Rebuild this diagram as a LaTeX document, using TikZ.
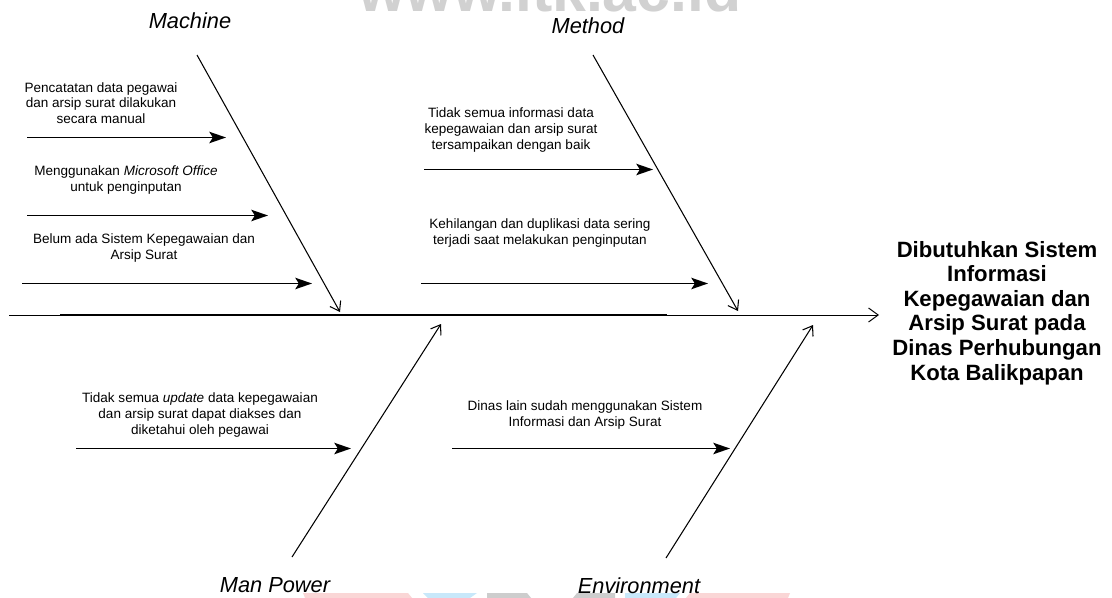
\documentclass[tikz,border=0pt]{standalone}
\usepackage{fontspec}
\setmainfont{Liberation Sans}
\usetikzlibrary{arrows.meta}
\tikzset{
  x=0.02cm,y=-0.02cm,
  spine/.style={draw=black,line width=0.55pt,-{Straight Barb[length=5.5pt,width=8pt]}},
  spinebody/.style={draw=black,line width=0.85pt},
  rib/.style={draw=black,line width=0.6pt,-{Straight Barb[length=5pt,width=7pt]}},
  cause/.style={draw=black,line width=0.85pt,-{Stealth[length=9.5pt,width=6.5pt,inset=2pt]}},
  causetext/.style={align=center,inner sep=0pt,font=\fontsize{7.7}{8.9}\selectfont},
  cat/.style={inner sep=0pt,font=\fontsize{12.4}{14}\selectfont\itshape},
  effect/.style={align=center,inner sep=0pt,font=\fontsize{12.6}{13.95}\selectfont\bfseries},
  wm/.style={inner sep=0pt,text=black!18,font=\fontsize{34.6}{40}\selectfont\bfseries},
}
\definecolor{wmpink}{RGB}{250,214,214}
\definecolor{wmblue}{RGB}{200,232,250}
\definecolor{wmgrey}{RGB}{205,205,205}
\begin{document}
\begin{tikzpicture}
\useasboundingbox (0,0) rectangle (1112,598);
\fill[white] (0,0) rectangle (1112,598);
% watermark fragments
\begin{scope}
\clip (0,0) rectangle (1112,598);
\node[wm,anchor=base] (wmark) at (550,12) {www.itk.ac.id};
\fill[wmpink] (303,593) -- (408,593) -- (412,598) -- (305,598) -- cycle;
\fill[wmblue] (423,593) -- (477,593) -- (470,598) -- (428,598) -- cycle;
\fill[wmgrey] (487,593) -- (527,593) -- (531,598) -- (487,598) -- cycle;
\fill[wmgrey] (577,593) -- (615,593) -- (615,598) -- (573,598) -- cycle;
\fill[wmblue] (625,593) -- (680,593) -- (676,598) -- (625,598) -- cycle;
\fill[wmpink] (690,593) -- (790,593) -- (788,598) -- (686,598) -- cycle;
\end{scope}
% end points
\coordinate (sL) at (9,315); \coordinate (sR) at (879,315);
\coordinate (sT1) at (60,315); \coordinate (sT2) at (667,315);
\coordinate (mA) at (197,55); \coordinate (mB) at (340,312);
\coordinate (hA) at (593,55); \coordinate (hB) at (738,311);
\coordinate (pA) at (292,557); \coordinate (pB) at (441,324);
\coordinate (eA) at (666,558); \coordinate (eB) at (813,325);
\coordinate (c1a) at (27,137.5); \coordinate (c1b) at (226,137.5);
\coordinate (c2a) at (27,215.5); \coordinate (c2b) at (268,215.5);
\coordinate (c3a) at (22,283.5); \coordinate (c3b) at (312,283.5);
\coordinate (c4a) at (424,169.5); \coordinate (c4b) at (653,169.5);
\coordinate (c5a) at (421,283.5); \coordinate (c5b) at (708,283.5);
\coordinate (c6a) at (76,448.5); \coordinate (c6b) at (351,448.5);
\coordinate (c7a) at (452,448.5); \coordinate (c7b) at (730,448.5);
% connectors
\draw[spine] (sL) -- (sR);
\draw[spinebody] (sT1) -- (sT2);
\draw[rib] (mA) -- (mB);
\draw[rib] (hA) -- (hB);
\draw[rib] (pA) -- (pB);
\draw[rib] (eA) -- (eB);
\draw[cause] (c1a) -- (c1b);
\draw[cause] (c2a) -- (c2b);
\draw[cause] (c3a) -- (c3b);
\draw[cause] (c4a) -- (c4b);
\draw[cause] (c5a) -- (c5b);
\draw[cause] (c6a) -- (c6b);
\draw[cause] (c7a) -- (c7b);
% categories
\node[cat] (machine) at (190,21) {Machine};
\node[cat] (method) at (588,26) {Method};
\node[cat] (manpower) at (275,585) {Man Power};
\node[cat] (environment) at (639,586) {Environment};
% causes
\node[causetext] (t1) at (101,103) {Pencatatan data pegawai\\dan arsip surat dilakukan\\secara manual};
\node[causetext] (t2) at (126,180) {Menggunakan \textit{Microsoft Office}\\untuk penginputan};
\node[causetext] (t3) at (144,248) {Belum ada Sistem Kepegawaian dan\\Arsip Surat};
\node[causetext] (t4) at (511,130) {Tidak semua informasi data\\kepegawaian dan arsip surat\\tersampaikan dengan baik};
\node[causetext] (t5) at (540,233) {Kehilangan dan duplikasi data sering\\terjadi saat melakukan penginputan};
\node[causetext] (t6) at (200,415) {Tidak semua \textit{update} data kepegawaian\\dan arsip surat dapat diakses dan\\diketahui oleh pegawai};
\node[causetext] (t7) at (585,415) {Dinas lain sudah menggunakan Sistem\\Informasi dan Arsip Surat};
% effect
\node[effect] (effect) at (997,313) {Dibutuhkan Sistem\\Informasi\\Kepegawaian dan\\Arsip Surat pada\\Dinas Perhubungan\\Kota Balikpapan};
\end{tikzpicture}
\end{document}
